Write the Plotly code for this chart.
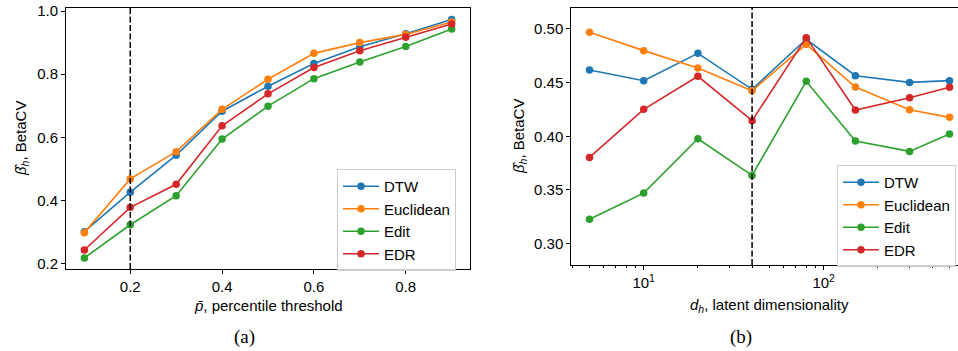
import plotly.graph_objects as go

W, H = 958, 351
OFF = 0  # body margin removed via post_script

# ---------------- data ----------------
p_thresh = [0.1, 0.2, 0.3, 0.4, 0.5, 0.6, 0.7, 0.8, 0.9]
a_dtw = [0.302, 0.427, 0.544, 0.683, 0.762, 0.834, 0.887, 0.928, 0.973]
a_euclid = [0.299, 0.469, 0.555, 0.689, 0.784, 0.866, 0.900, 0.926, 0.965]
a_edit = [0.219, 0.324, 0.416, 0.595, 0.699, 0.786, 0.839, 0.888, 0.943]
a_edr = [0.244, 0.379, 0.452, 0.637, 0.738, 0.821, 0.874, 0.917, 0.959]

d_h = [5, 10, 20, 40, 80, 150, 300, 500]
b_dtw = [0.4617, 0.4518, 0.4773, 0.4437, 0.4904, 0.4564, 0.4502, 0.4518]
b_euclid = [0.4969, 0.4798, 0.4636, 0.4424, 0.4857, 0.4459, 0.4247, 0.4176]
b_edit = [0.3227, 0.3470, 0.3977, 0.3635, 0.4512, 0.3955, 0.3859, 0.4020]
b_edr = [0.3803, 0.4251, 0.4559, 0.4145, 0.4919, 0.4244, 0.4359, 0.4456]

names = ["DTW", "Euclidean", "Edit", "EDR"]
colors = ["#1f77b4", "#ff7f0e", "#2ca02c", "#d62728"]

a_vline = 0.2
b_vline = 40

a_xticks = [0.2, 0.4, 0.6, 0.8]
a_yticks = [0.2, 0.4, 0.6, 0.8, 1.0]
b_yticks = [0.30, 0.35, 0.40, 0.45, 0.50]
b_xticks = [10, 100]
b_xticklabels = ["10<sup>1</sup>", "10<sup>2</sup>"]
b_minor = [4, 5, 6, 7, 8, 9, 20, 30, 40, 50, 60, 70, 80, 90, 200, 300, 400, 500, 600]

FONT = "Arial, Liberation Sans, sans-serif"
FS = 15


def px(x):
    return min(1.0, max(0.0, (x - OFF) / W))


def py(y):
    return min(1.0, max(0.0, 1 - (y - OFF) / H))


fig = go.Figure()

for n, c, ys in zip(names, colors, [a_dtw, a_euclid, a_edit, a_edr]):
    fig.add_trace(go.Scatter(x=p_thresh, y=ys, name=n, mode="lines+markers",
                             line=dict(color=c, width=1.6),
                             marker=dict(color=c, size=7.5),
                             xaxis="x", yaxis="y", legend="legend"))
for n, c, ys in zip(names, colors, [b_dtw, b_euclid, b_edit, b_edr]):
    fig.add_trace(go.Scatter(x=d_h, y=ys, name=n, mode="lines+markers",
                             line=dict(color=c, width=1.6),
                             marker=dict(color=c, size=7.5),
                             xaxis="x2", yaxis="y2", legend="legend2"))

axcommon = dict(showline=True, linecolor="black", linewidth=1, ticks="outside",
                ticklen=4, tickwidth=1, tickcolor="black", showgrid=False,
                zeroline=False, ticklabeloverflow="allow",
                tickfont=dict(family=FONT, size=FS, color="black"))

# right axis: 180 px per decade, 10^1 at page x 643.7; the reference is cut at the image edge
b_left_page = 571.3
b_range = [1 + (b_left_page - 643.7) / 180, 1 + (W - 643.7) / 180]
b_xdom = [px(b_left_page), 1.0]

fig.update_layout(
    width=W, height=H,
    margin=dict(l=0, r=0, t=0, b=0, autoexpand=False),
    paper_bgcolor="white", plot_bgcolor="white",
    font=dict(family=FONT, size=FS, color="black"),
    xaxis=dict(domain=[px(66), px(470)], range=[0.06, 0.94], tickvals=a_xticks,
               ticktext=[f"{v:.1f}" for v in a_xticks], mirror=True, anchor="y", **axcommon),
    yaxis=dict(domain=[py(269), py(8)], range=[0.184, 1.0095], tickvals=a_yticks,
               ticktext=[f"{v:.1f}" for v in a_yticks], mirror=True, anchor="x", **axcommon),
    xaxis2=dict(domain=b_xdom, type="log", range=b_range,
                tickvals=b_xticks, ticktext=b_xticklabels, mirror=True, anchor="y2",
                minor=dict(ticks="outside", ticklen=2, tickwidth=0.8, tickcolor="black",
                           tickvals=b_minor, showgrid=False),
                **axcommon),
    yaxis2=dict(domain=[py(265), py(7.5)], range=[0.28, 0.52], tickvals=b_yticks,
                ticktext=[f"{v:.2f}" for v in b_yticks], mirror=False, anchor="x2", **axcommon),
    legend=dict(x=px(337), y=py(169), xanchor="left", yanchor="top", itemwidth=36,
                bgcolor="rgba(255,255,255,0.8)", bordercolor="#cccccc", borderwidth=1,
                font=dict(family=FONT, size=FS), tracegroupgap=0),
    legend2=dict(x=px(837), y=py(165), xanchor="left", yanchor="top", itemwidth=36,
                 bgcolor="rgba(255,255,255,0.8)", bordercolor="#cccccc", borderwidth=1,
                 font=dict(family=FONT, size=FS), tracegroupgap=0),
)

fig.add_shape(type="line", xref="x", yref="y domain", x0=a_vline, x1=a_vline, y0=0, y1=1,
              line=dict(color="black", width=1.5, dash="6px,2.5px"))
fig.add_shape(type="line", xref="x2", yref="y2 domain", x0=b_vline, x1=b_vline, y0=0, y1=1,
              line=dict(color="black", width=1.5, dash="6px,2.5px"))

ann = [
    dict(text="<i>p̄</i>, percentile threshold", x=px(268), y=py(305)),
    dict(text="<i>d</i><sub><i>h</i></sub>, latent dimensionality", x=px(769), y=py(305)),
    dict(text="<i>β̂</i><sub><i>h</i></sub>, BetaCV", x=px(21), y=py(139), textangle=-90),
    dict(text="<i>β̂</i><sub><i>h</i></sub>, BetaCV", x=px(519), y=py(137), textangle=-90),
]
for a in ann:
    fig.add_annotation(xref="paper", yref="paper", showarrow=False, xanchor="center",
                       yanchor="middle", font=dict(family=FONT, size=FS, color="black"), **a)

for t, x in [("(a)", 244), ("(b)", 741)]:
    fig.add_annotation(text=t, xref="paper", yref="paper", x=px(x), y=py(337), showarrow=False,
                       xanchor="center", yanchor="middle",
                       font=dict(family="Liberation Serif, Times New Roman, serif", size=19, color="black"))

fig.write_html("out.html", config={"displayModeBar": False},
               post_script="document.body.style.margin='0';document.body.style.overflow='hidden';")
